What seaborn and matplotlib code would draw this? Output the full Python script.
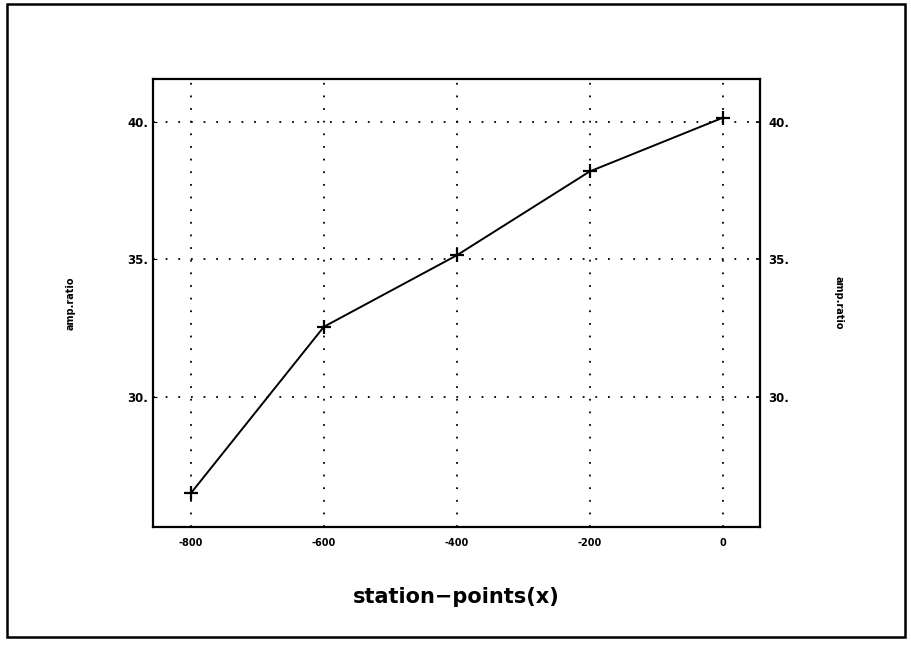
import matplotlib
matplotlib.use("Agg")
import matplotlib.pyplot as plt
import seaborn as sns
import pandas as pd
from matplotlib.patches import Rectangle

station = [-800, -600, -400, -200, 0]
amp_ratio = [26.5, 32.55, 35.15, 38.2, 40.15]
xticks = [-800, -600, -400, -200, 0]
yticks = [30, 35, 40]
ytick_labels = ["30.", "35.", "40."]

df = pd.DataFrame({"station": station, "amp": amp_ratio})

sns.set_theme(style="white")
plt.rcParams['font.family'] = ['DejaVu Sans']
plt.rcParams['text.color'] = 'black'
plt.rcParams['axes.labelcolor'] = 'black'
plt.rcParams['xtick.color'] = 'black'
plt.rcParams['ytick.color'] = 'black'

fig = plt.figure(figsize=(9.12, 6.48), dpi=100)
ax = fig.add_axes([153/912, 1-527/648, (760-153)/912, (527-79)/648])

sns.lineplot(data=df, x="station", y="amp", ax=ax, color="black", linewidth=1.4,
             marker="+", markersize=10, markeredgewidth=1.6, markeredgecolor="black")

ax.set_xlim(-857, 56)
ax.set_ylim(25.27, 41.56)
ax.set_xticks(xticks)
ax.set_xticklabels([str(t) for t in xticks], fontsize=7, fontweight="bold")
ax.set_yticks(yticks)
ax.set_yticklabels(ytick_labels, fontsize=8.5, fontweight="bold")
ax.grid(True, color="black", linestyle=(0, (1, 6)), linewidth=1.3)
for s in ax.spines.values():
    s.set_color("black")
    s.set_linewidth(1.6)
ax.tick_params(axis="both", direction="in", length=3, color="black", width=0.8)
ax.tick_params(axis="x", pad=8)
ax.set_xlabel("station\u2212points(x)", fontsize=15, fontweight="bold", labelpad=28)
ax.set_ylabel("amp.ratio", fontsize=7, fontweight="bold", labelpad=37)

ax2 = ax.twinx()
ax2.set_ylim(ax.get_ylim())
ax2.set_yticks(yticks)
ax2.set_yticklabels(ytick_labels, fontsize=8.5, fontweight="bold")
ax2.tick_params(axis="y", direction="in", length=3, color="black", pad=6)
ax2.set_ylabel("amp.ratio", fontsize=7, fontweight="bold", rotation=270, labelpad=39)
for s in ax2.spines.values():
    s.set_visible(False)

fig.patches.append(Rectangle((7/912, 1-637/648), (905-7)/912, (637-4)/648,
                             transform=fig.transFigure, fill=False,
                             edgecolor="black", linewidth=1.8))

fig.savefig("out.png", dpi=100, facecolor="white")
